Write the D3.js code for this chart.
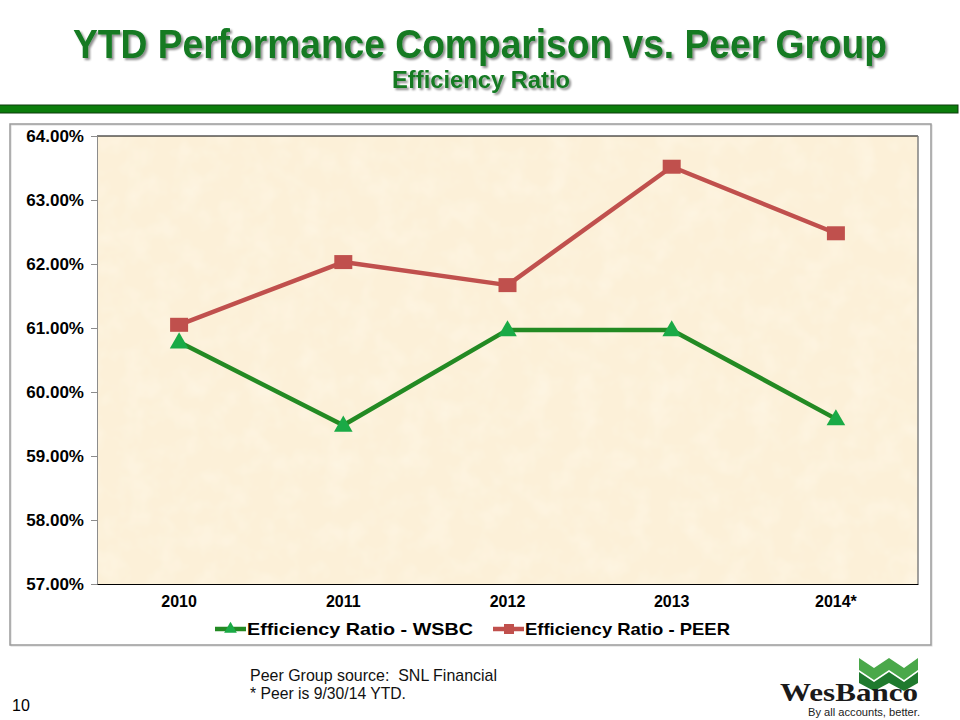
<!DOCTYPE html>
<html>
<head>
<meta charset="utf-8">
<script src="https://cdn.jsdelivr.net/npm/d3@7"></script>
<style>
  html, body { margin: 0; padding: 0; background: #ffffff; }
  svg { display: block; font-family: "Liberation Sans", Arial, sans-serif; }
</style>
</head>
<body>
<div id="chart"></div>
<script>
// 차트 데이터
const years = ['2010', '2011', '2012', '2013', '2014*'];
const wsbcValues = [60.78, 59.48, 60.97, 60.97, 59.58];
const peerValues = [61.05, 62.03, 61.67, 63.52, 62.48];
const yTicks = [57, 58, 59, 60, 61, 62, 63, 64];
const seriesNames = ['Efficiency Ratio - WSBC', 'Efficiency Ratio - PEER'];

const W = 960, H = 720;
const plot = { left: 97, right: 918, top: 136, bottom: 584 };

const svg = d3.select('#chart').append('svg')
    .attr('width', W).attr('height', H);

const defs = svg.append('defs');

// 양피지 느낌 텍스처 (옅은 얼룩)
const tex = defs.append('filter').attr('id', 'parchment')
    .attr('x', 0).attr('y', 0).attr('width', 1).attr('height', 1)
    .attr('color-interpolation-filters', 'sRGB');
tex.append('feTurbulence').attr('type', 'fractalNoise')
    .attr('baseFrequency', 0.04).attr('numOctaves', 3).attr('seed', 4).attr('result', 'noise');
tex.append('feColorMatrix').attr('in', 'noise').attr('type', 'matrix')
    .attr('values', '0 0 0 0 1  0 0 0 0 0.985  0 0 0 0 0.94  0 0 0 0.8 -0.33')
    .attr('result', 'spots');
tex.append('feComposite').attr('in', 'spots').attr('in2', 'SourceGraphic').attr('operator', 'atop');

// 제목 그림자
const shadow = defs.append('filter').attr('id', 'tshadow')
    .attr('x', '-5%').attr('y', '-20%').attr('width', '110%').attr('height', '140%');
shadow.append('feGaussianBlur').attr('in', 'SourceAlpha').attr('stdDeviation', 1.2).attr('result', 'b');
shadow.append('feOffset').attr('in', 'b').attr('dx', 2).attr('dy', 2).attr('result', 'o');
shadow.append('feComponentTransfer').attr('in', 'o').attr('result', 's')
    .append('feFuncA').attr('type', 'linear').attr('slope', 0.45);
const merge = shadow.append('feMerge');
merge.append('feMergeNode').attr('in', 's');
merge.append('feMergeNode').attr('in', 'SourceGraphic');

// 제목
svg.append('text')
    .attr('x', 480).attr('y', 58)
    .attr('text-anchor', 'middle')
    .attr('font-size', 40).attr('font-weight', 'bold')
    .attr('fill', '#127a22')
    .attr('textLength', 814).attr('lengthAdjust', 'spacingAndGlyphs')
    .attr('filter', 'url(#tshadow)')
    .text('YTD Performance Comparison vs. Peer Group');

svg.append('text')
    .attr('x', 481).attr('y', 88)
    .attr('text-anchor', 'middle')
    .attr('font-size', 23).attr('font-weight', 'bold')
    .attr('fill', '#127a22')
    .attr('textLength', 178).attr('lengthAdjust', 'spacingAndGlyphs')
    .attr('filter', 'url(#tshadow)')
    .text('Efficiency Ratio');

// 녹색 구분 막대
svg.append('rect')
    .attr('x', -2).attr('y', 105).attr('width', 960).attr('height', 8)
    .attr('fill', '#0b7d0b').attr('stroke', '#0c3d0c').attr('stroke-width', 1);

// 차트 외곽 프레임
svg.append('rect')
    .attr('x', 11).attr('y', 125).attr('width', 921).attr('height', 521)
    .attr('fill', 'none').attr('stroke', '#d8d8d8').attr('stroke-width', 1);
svg.append('rect')
    .attr('x', 10).attr('y', 124).attr('width', 921).attr('height', 521)
    .attr('fill', 'none').attr('stroke', '#9a9a9a').attr('stroke-width', 1.5);

// 스케일
const x = d3.scaleBand().domain(years).range([plot.left, plot.right]);
const y = d3.scaleLinear().domain([57, 64]).range([plot.bottom, plot.top]);

// 플롯 배경
svg.append('rect')
    .attr('x', plot.left).attr('y', plot.top)
    .attr('width', plot.right - plot.left).attr('height', plot.bottom - plot.top)
    .attr('fill', '#fcf0d8')
    .attr('filter', 'url(#parchment)');

// 플롯 테두리: 위 검정, 오른쪽 회색
svg.append('line').attr('x1', plot.left).attr('x2', plot.right)
    .attr('y1', plot.top).attr('y2', plot.top).attr('stroke', '#000').attr('stroke-width', 1);
svg.append('line').attr('x1', plot.right).attr('x2', plot.right)
    .attr('y1', plot.top).attr('y2', plot.bottom).attr('stroke', '#808080').attr('stroke-width', 1.5);

// Y축
const yAxis = svg.append('g')
    .attr('transform', `translate(${plot.left},0)`)
    .call(d3.axisLeft(y).tickValues(yTicks).tickSize(6).tickPadding(7)
        .tickFormat(d => d.toFixed(2) + '%'));
yAxis.select('.domain').attr('stroke', '#8c8c8c');
yAxis.selectAll('.tick line').attr('stroke', '#8c8c8c');
yAxis.selectAll('text')
    .attr('font-size', 17).attr('font-weight', 'bold').attr('fill', '#000')
    .attr('font-family', '"Liberation Sans", Arial, sans-serif');

// X축
const xAxis = svg.append('g')
    .attr('transform', `translate(0,${plot.bottom})`)
    .call(d3.axisBottom(x).tickSize(0).tickPadding(12));
xAxis.select('.domain').attr('stroke', '#000').attr('stroke-width', 1.2);
xAxis.selectAll('text')
    .attr('font-size', 16).attr('font-weight', 'bold').attr('fill', '#000')
    .attr('font-family', '"Liberation Sans", Arial, sans-serif');

const cx = d => x(d) + x.bandwidth() / 2;

// 선
const line = d3.line().x(d => cx(d.year)).y(d => y(d.value));
const wsbc = years.map((yr, i) => ({ year: yr, value: wsbcValues[i] }));
const peer = years.map((yr, i) => ({ year: yr, value: peerValues[i] }));

svg.append('path').datum(wsbc).attr('d', line)
    .attr('fill', 'none').attr('stroke', '#238a23').attr('stroke-width', 4.5)
    .attr('stroke-linejoin', 'round');
svg.append('path').datum(peer).attr('d', line)
    .attr('fill', 'none').attr('stroke', '#c0504d').attr('stroke-width', 4.5)
    .attr('stroke-linejoin', 'round');

// 마커
const tri = d3.symbol().type(d3.symbolTriangle).size(150);
svg.selectAll('path.wsbc-mark').data(wsbc).enter().append('path')
    .attr('class', 'wsbc-mark')
    .attr('d', tri)
    .attr('transform', d => `translate(${cx(d.year)},${y(d.value) + 1})`)
    .attr('fill', '#1aaa46');

svg.selectAll('rect.peer-mark').data(peer).enter().append('rect')
    .attr('class', 'peer-mark')
    .attr('x', d => cx(d.year) - 9).attr('y', d => y(d.value) - 7)
    .attr('width', 18).attr('height', 14)
    .attr('fill', '#c0504d');

// 범례
const legend = svg.append('g').attr('transform', 'translate(0,629)');
const legendItems = [
    { name: seriesNames[0], x: 215, color: '#238a23', mark: '#1aaa46', type: 'tri', len: 226 },
    { name: seriesNames[1], x: 493, color: '#c0504d', mark: '#c0504d', type: 'sq', len: 205 }
];
legendItems.forEach(it => {
    legend.append('line')
        .attr('x1', it.x).attr('x2', it.x + 31).attr('y1', 0).attr('y2', 0)
        .attr('stroke', it.color).attr('stroke-width', 4.5);
    if (it.type === 'tri') {
        legend.append('path').attr('d', d3.symbol().type(d3.symbolTriangle).size(70))
            .attr('transform', `translate(${it.x + 15.5},0)`).attr('fill', it.mark);
    } else {
        legend.append('rect').attr('x', it.x + 11).attr('y', -5).attr('width', 10).attr('height', 10)
            .attr('fill', it.mark);
    }
    legend.append('text')
        .attr('x', it.x + 32).attr('y', 6)
        .attr('font-size', 17).attr('font-weight', 'bold').attr('fill', '#000')
        .attr('textLength', it.len).attr('lengthAdjust', 'spacingAndGlyphs')
        .text(it.name);
});

// 각주
svg.append('text').attr('x', 250).attr('y', 681)
    .attr('font-size', 17).attr('fill', '#111')
    .attr('textLength', 247).attr('lengthAdjust', 'spacingAndGlyphs')
    .style('white-space', 'pre')
    .text('Peer Group source:  SNL Financial');
svg.append('text').attr('x', 250).attr('y', 699)
    .attr('font-size', 17).attr('fill', '#111')
    .attr('textLength', 156).attr('lengthAdjust', 'spacingAndGlyphs')
    .text('* Peer is 9/30/14 YTD.');

// 페이지 번호
svg.append('text').attr('x', 12).attr('y', 711)
    .attr('font-size', 16).attr('fill', '#000')
    .text('10');

// 로고
const logo = svg.append('g').attr('transform', 'translate(780,654)');
logo.append('path')
    .attr('d', 'M79,4 L94,14 L109,4 L124,14 L138,4 L138,16 L124,26 L109,16 L94,26 L79,16 Z')
    .attr('fill', '#4aa84a');
logo.append('path')
    .attr('d', 'M79,18 L94,28 L109,18 L124,28 L138,18 L138,29 L124,37 L109,29 L94,37 L79,29 Z')
    .attr('fill', '#1f7a2e');
logo.append('text').attr('x', 0).attr('y', 47)
    .attr('font-family', '"Liberation Serif", "DejaVu Serif", serif')
    .attr('font-size', 26).attr('font-weight', 'bold').attr('fill', '#1a1a1a')
    .attr('textLength', 138).attr('lengthAdjust', 'spacingAndGlyphs')
    .text('WesBanco');
logo.append('text').attr('x', 140).attr('y', 61.5)
    .attr('text-anchor', 'end')
    .attr('font-size', 11).attr('fill', '#222')
    .attr('textLength', 112).attr('lengthAdjust', 'spacingAndGlyphs')
    .text('By all accounts, better.');
</script>
</body>
</html>
